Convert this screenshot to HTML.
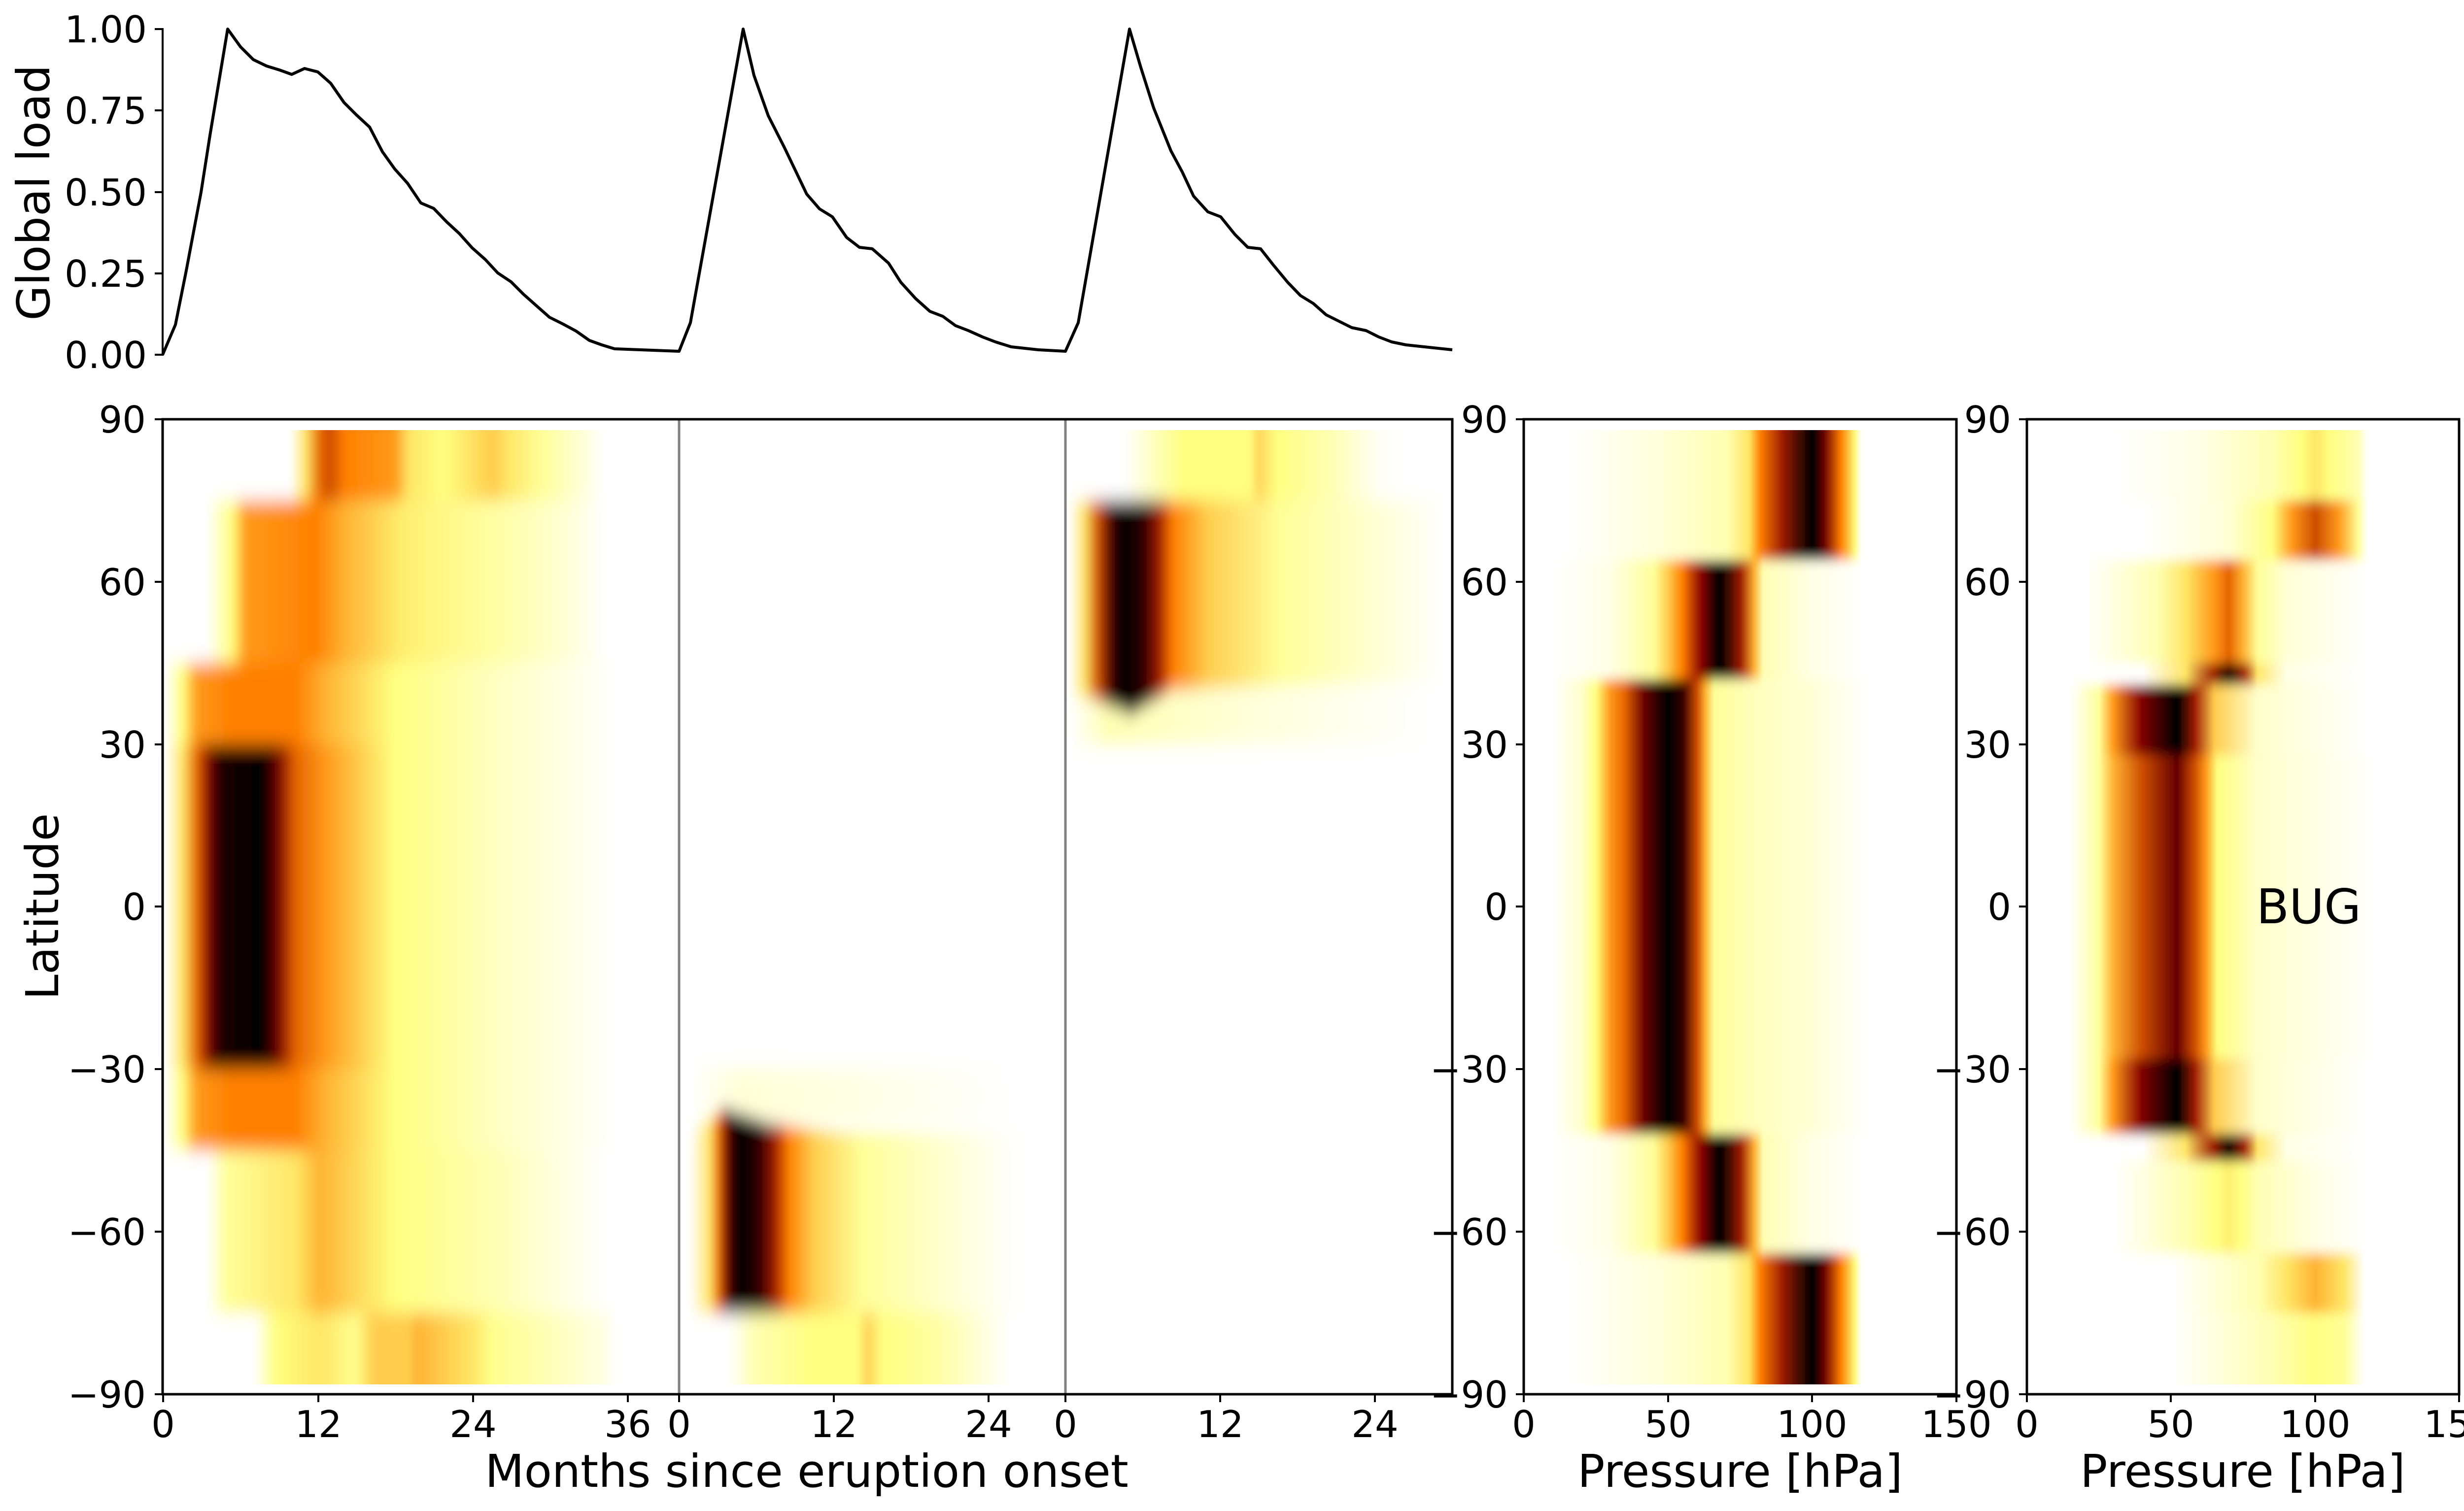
<!DOCTYPE html>
<html><head><meta charset="utf-8"><style>html,body{margin:0;padding:0;background:#fff}svg{display:block}</style></head>
<body>
<svg xmlns="http://www.w3.org/2000/svg" width="5082" height="3067" viewBox="0 0 5082 3067" font-family="'DejaVu Sans','Liberation Sans',sans-serif">
<defs>
<filter id="bl" x="-5%" y="-20%" width="110%" height="140%"><feGaussianBlur stdDeviation="8 18"/></filter>
<filter id="bl2" x="-5%" y="-20%" width="110%" height="140%"><feGaussianBlur stdDeviation="0.4 12"/></filter>
<clipPath id="cm"><rect x="330" y="873" width="2617" height="1937"/></clipPath>
<clipPath id="cp"><rect x="0" y="873" width="150" height="1937"/></clipPath>
<linearGradient id="A" gradientUnits="userSpaceOnUse" x1="0" x2="5000" y1="0" y2="0">
<stop offset=".118" stop-color="#fff"/><stop offset=".124" stop-color="#ffe666"/><stop offset=".13" stop-color="#e66600"/><stop offset=".134" stop-color="#cc4d00"/><stop offset=".14" stop-color="#ff8000"/><stop offset=".16" stop-color="#ff991a"/><stop offset=".166" stop-color="#ffe666"/><stop offset=".18" stop-color="#ffff80"/><stop offset=".19" stop-color="#ffe666"/><stop offset=".2" stop-color="#ffcc4d"/><stop offset=".206" stop-color="#ffe666"/><stop offset=".22" stop-color="#ffff99"/><stop offset=".24" stop-color="#ffffe6"/><stop offset=".244" stop-color="#fff"/></linearGradient>
<linearGradient id="B" gradientUnits="userSpaceOnUse" x1="0" x2="5000" y1="0" y2="0">
<stop offset=".084" stop-color="#fff"/><stop offset=".094" stop-color="#ffff80"/><stop offset=".1" stop-color="#ff991a"/><stop offset=".128" stop-color="#ff8000"/><stop offset=".14" stop-color="#ffb333"/><stop offset=".164" stop-color="#fff070"/><stop offset=".2" stop-color="#ffffa3"/><stop offset=".23" stop-color="#ffffd6"/><stop offset=".246" stop-color="#fff"/></linearGradient>
<linearGradient id="C" gradientUnits="userSpaceOnUse" x1="0" x2="5000" y1="0" y2="0">
<stop offset=".067" stop-color="#fff"/><stop offset=".074" stop-color="#ffff80"/><stop offset=".08" stop-color="#ff991a"/><stop offset=".094" stop-color="#ff8000"/><stop offset=".12" stop-color="#ff8000"/><stop offset=".132" stop-color="#ffb333"/><stop offset=".16" stop-color="#ffff80"/><stop offset=".2" stop-color="#ffffc2"/><stop offset=".25" stop-color="#fff"/></linearGradient>
<linearGradient id="D" gradientUnits="userSpaceOnUse" x1="0" x2="5000" y1="0" y2="0">
<stop offset=".067" stop-color="#fff"/><stop offset=".074" stop-color="#ffe666"/><stop offset=".08" stop-color="#e66600"/><stop offset=".086" stop-color="#660000"/><stop offset=".09" stop-color="#1a0000"/><stop offset=".106" stop-color="#000"/><stop offset=".112" stop-color="#660000"/><stop offset=".12" stop-color="#e66600"/><stop offset=".132" stop-color="#ff991a"/><stop offset=".16" stop-color="#ffff80"/><stop offset=".2" stop-color="#ffffc2"/><stop offset=".25" stop-color="#fff"/></linearGradient>
<linearGradient id="E" gradientUnits="userSpaceOnUse" x1="0" x2="5000" y1="0" y2="0">
<stop offset=".084" stop-color="#fff"/><stop offset=".092" stop-color="#ffff99"/><stop offset=".12" stop-color="#ffe666"/><stop offset=".13" stop-color="#ffb333"/><stop offset=".14" stop-color="#ffcc4d"/><stop offset=".16" stop-color="#ffff80"/><stop offset=".2" stop-color="#ffffb3"/><stop offset=".23" stop-color="#ffffe6"/><stop offset=".246" stop-color="#fff"/></linearGradient>
<linearGradient id="F" gradientUnits="userSpaceOnUse" x1="0" x2="5000" y1="0" y2="0">
<stop offset=".1034" stop-color="#fff"/><stop offset=".112" stop-color="#ffff80"/><stop offset=".13" stop-color="#ffe666"/><stop offset=".144" stop-color="#ffff8f"/><stop offset=".152" stop-color="#ffcc4d"/><stop offset=".166" stop-color="#ffcc4d"/><stop offset=".169" stop-color="#ffb333"/><stop offset=".18" stop-color="#ffcc4d"/><stop offset=".192" stop-color="#ffe666"/><stop offset=".2" stop-color="#ffff8f"/><stop offset=".22" stop-color="#ffffb3"/><stop offset=".246" stop-color="#ffffe6"/><stop offset=".25" stop-color="#fff"/></linearGradient>
<linearGradient id="S2" gradientUnits="userSpaceOnUse" x1="0" x2="5000" y1="0" y2="0">
<stop offset=".28" stop-color="#fff"/><stop offset=".288" stop-color="#ffe666"/><stop offset=".292" stop-color="#e66600"/><stop offset=".296" stop-color="#4d0000"/><stop offset=".3" stop-color="#000"/><stop offset=".308" stop-color="#300000"/><stop offset=".314" stop-color="#991a00"/><stop offset=".32" stop-color="#ff8000"/><stop offset=".33" stop-color="#ffcc4d"/><stop offset=".35" stop-color="#ffff99"/><stop offset=".38" stop-color="#ffffcc"/><stop offset=".41" stop-color="#fffffa"/><stop offset=".416" stop-color="#fff"/></linearGradient>
<linearGradient id="S2b" gradientUnits="userSpaceOnUse" x1="0" x2="5000" y1="0" y2="0">
<stop offset=".296" stop-color="#fff"/><stop offset=".306" stop-color="#ffffb3"/><stop offset=".33" stop-color="#ffff80"/><stop offset=".348" stop-color="#ffff80"/><stop offset=".352" stop-color="#ffd055"/><stop offset=".358" stop-color="#ffff80"/><stop offset=".38" stop-color="#ffffa3"/><stop offset=".41" stop-color="#fff"/></linearGradient>
<linearGradient id="S2f" gradientUnits="userSpaceOnUse" x1="0" x2="5000" y1="0" y2="0">
<stop offset=".28" stop-color="#fff"/><stop offset=".3" stop-color="#ffffd6"/><stop offset=".35" stop-color="#ffffe6"/><stop offset=".41" stop-color="#fff"/></linearGradient>
<linearGradient id="S3" gradientUnits="userSpaceOnUse" x1="0" x2="5000" y1="0" y2="0">
<stop offset=".434" stop-color="#fff"/><stop offset=".44" stop-color="#ffe666"/><stop offset=".446" stop-color="#cc4d00"/><stop offset=".452" stop-color="#330000"/><stop offset=".456" stop-color="#000"/><stop offset=".464" stop-color="#300000"/><stop offset=".47" stop-color="#991a00"/><stop offset=".476" stop-color="#ff8000"/><stop offset=".49" stop-color="#ffcc4d"/><stop offset=".52" stop-color="#ffff99"/><stop offset=".56" stop-color="#ffffd6"/><stop offset=".586" stop-color="#fff"/></linearGradient>
<linearGradient id="S3t" gradientUnits="userSpaceOnUse" x1="0" x2="5000" y1="0" y2="0">
<stop offset=".456" stop-color="#fff"/><stop offset=".466" stop-color="#ffffcc"/><stop offset=".48" stop-color="#ffff80"/><stop offset=".508" stop-color="#ffff80"/><stop offset=".51" stop-color="#ffd055"/><stop offset=".518" stop-color="#ffff80"/><stop offset=".54" stop-color="#ffffb3"/><stop offset=".56" stop-color="#fffff7"/><stop offset=".57" stop-color="#fff"/></linearGradient>
<linearGradient id="S3f" gradientUnits="userSpaceOnUse" x1="0" x2="5000" y1="0" y2="0">
<stop offset=".434" stop-color="#fff"/><stop offset=".45" stop-color="#ffffb3"/><stop offset=".5" stop-color="#ffffd6"/><stop offset=".58" stop-color="#fff"/></linearGradient>
<linearGradient id="P1" gradientUnits="userSpaceOnUse" x1="0" x2="200" y1="0" y2="0">
<stop offset=".075" stop-color="#fff"/><stop offset=".25" stop-color="#ffffd6"/><stop offset=".35" stop-color="#ffffb3"/><stop offset=".39" stop-color="#ffe666"/><stop offset=".41" stop-color="#ff8000"/><stop offset=".45" stop-color="#991a00"/><stop offset=".5" stop-color="#000"/><stop offset=".52" stop-color="#660000"/><stop offset=".55" stop-color="#ff8000"/><stop offset=".575" stop-color="#ffff80"/><stop offset=".585" stop-color="#fff"/></linearGradient>
<linearGradient id="P2" gradientUnits="userSpaceOnUse" x1="0" x2="200" y1="0" y2="0">
<stop offset=".05" stop-color="#fff"/><stop offset=".15" stop-color="#ffffe6"/><stop offset=".225" stop-color="#ffff99"/><stop offset=".25" stop-color="#ffcc4d"/><stop offset=".275" stop-color="#ff8000"/><stop offset=".31" stop-color="#800000"/><stop offset=".34" stop-color="#000"/><stop offset=".375" stop-color="#991a00"/><stop offset=".4" stop-color="#ffb333"/><stop offset=".415" stop-color="#ffffb3"/><stop offset=".5" stop-color="#ffffe6"/><stop offset=".585" stop-color="#fff"/></linearGradient>
<linearGradient id="P3" gradientUnits="userSpaceOnUse" x1="0" x2="200" y1="0" y2="0">
<stop offset=".05" stop-color="#fff"/><stop offset=".1" stop-color="#ffffcc"/><stop offset=".125" stop-color="#ffff80"/><stop offset=".15" stop-color="#ff991a"/><stop offset=".175" stop-color="#e66600"/><stop offset=".21" stop-color="#660000"/><stop offset=".25" stop-color="#000"/><stop offset=".275" stop-color="#330000"/><stop offset=".3" stop-color="#cc4d00"/><stop offset=".315" stop-color="#ffb333"/><stop offset=".33" stop-color="#ffff99"/><stop offset=".4" stop-color="#ffffbd"/><stop offset=".5" stop-color="#ffffd6"/><stop offset=".585" stop-color="#fffffa"/><stop offset=".6" stop-color="#fff"/></linearGradient>
<linearGradient id="Q1" gradientUnits="userSpaceOnUse" x1="0" x2="200" y1="0" y2="0">
<stop offset=".15" stop-color="#fff"/><stop offset=".3" stop-color="#ffffe6"/><stop offset=".425" stop-color="#ffffb3"/><stop offset=".475" stop-color="#ffff80"/><stop offset=".5" stop-color="#ffe666"/><stop offset=".525" stop-color="#ffff80"/><stop offset=".575" stop-color="#ffffb3"/><stop offset=".59" stop-color="#fff"/></linearGradient>
<linearGradient id="Q2" gradientUnits="userSpaceOnUse" x1="0" x2="200" y1="0" y2="0">
<stop offset=".2" stop-color="#fff"/><stop offset=".35" stop-color="#ffffd6"/><stop offset=".425" stop-color="#ffff80"/><stop offset=".46" stop-color="#ff991a"/><stop offset=".5" stop-color="#cc4d00"/><stop offset=".54" stop-color="#ff991a"/><stop offset=".575" stop-color="#ffff99"/><stop offset=".59" stop-color="#fff"/></linearGradient>
<linearGradient id="Q3" gradientUnits="userSpaceOnUse" x1="0" x2="200" y1="0" y2="0">
<stop offset=".1" stop-color="#fff"/><stop offset=".225" stop-color="#ffffb3"/><stop offset=".275" stop-color="#ffe666"/><stop offset=".325" stop-color="#ff991a"/><stop offset=".35" stop-color="#e66600"/><stop offset=".375" stop-color="#ffb333"/><stop offset=".4" stop-color="#ffff99"/><stop offset=".45" stop-color="#ffffd6"/><stop offset=".59" stop-color="#fff"/></linearGradient>
<linearGradient id="Q4" gradientUnits="userSpaceOnUse" x1="0" x2="200" y1="0" y2="0">
<stop offset=".2" stop-color="#fff"/><stop offset=".275" stop-color="#ffe666"/><stop offset=".325" stop-color="#991a00"/><stop offset=".35" stop-color="#1a0000"/><stop offset=".375" stop-color="#991a00"/><stop offset=".4" stop-color="#ffe666"/><stop offset=".45" stop-color="#ffffe6"/><stop offset=".59" stop-color="#fff"/></linearGradient>
<linearGradient id="Q5" gradientUnits="userSpaceOnUse" x1="0" x2="200" y1="0" y2="0">
<stop offset=".075" stop-color="#fff"/><stop offset=".125" stop-color="#ffff99"/><stop offset=".15" stop-color="#ff991a"/><stop offset=".2" stop-color="#800000"/><stop offset=".26" stop-color="#000"/><stop offset=".29" stop-color="#991a00"/><stop offset=".325" stop-color="#ffcc4d"/><stop offset=".4" stop-color="#ffffcc"/><stop offset=".59" stop-color="#fff"/></linearGradient>
<linearGradient id="Q6" gradientUnits="userSpaceOnUse" x1="0" x2="200" y1="0" y2="0">
<stop offset=".075" stop-color="#fff"/><stop offset=".125" stop-color="#ffff99"/><stop offset=".15" stop-color="#ffb333"/><stop offset=".2" stop-color="#cc4d00"/><stop offset=".26" stop-color="#660000"/><stop offset=".29" stop-color="#cc4d00"/><stop offset=".31" stop-color="#ff991a"/><stop offset=".33" stop-color="#ffff80"/><stop offset=".4" stop-color="#ffffcc"/><stop offset=".59" stop-color="#fffffa"/><stop offset=".6" stop-color="#fff"/></linearGradient>
<linearGradient id="Q9" gradientUnits="userSpaceOnUse" x1="0" x2="200" y1="0" y2="0">
<stop offset=".15" stop-color="#fff"/><stop offset=".275" stop-color="#ffffb3"/><stop offset=".33" stop-color="#ffff80"/><stop offset=".35" stop-color="#fff070"/><stop offset=".37" stop-color="#ffff80"/><stop offset=".4" stop-color="#ffffb3"/><stop offset=".5" stop-color="#ffffe6"/><stop offset=".59" stop-color="#fff"/></linearGradient>
<linearGradient id="Q10" gradientUnits="userSpaceOnUse" x1="0" x2="200" y1="0" y2="0">
<stop offset=".25" stop-color="#fff"/><stop offset=".4" stop-color="#ffffb3"/><stop offset=".45" stop-color="#ffe666"/><stop offset=".5" stop-color="#ffb333"/><stop offset=".55" stop-color="#ffe666"/><stop offset=".585" stop-color="#fff"/></linearGradient>
<linearGradient id="Q11" gradientUnits="userSpaceOnUse" x1="0" x2="200" y1="0" y2="0">
<stop offset=".25" stop-color="#fff"/><stop offset=".425" stop-color="#ffffb3"/><stop offset=".5" stop-color="#ffff80"/><stop offset=".55" stop-color="#ffff99"/><stop offset=".585" stop-color="#fff"/></linearGradient>
</defs>

<!-- Top plot -->
<line x1="330" y1="57" x2="330" y2="722" stroke="#000" stroke-width="4"/>
<g stroke="#000" stroke-width="4">
<line x1="314" y1="59" x2="330" y2="59"/><line x1="314" y1="224" x2="330" y2="224"/><line x1="314" y1="390" x2="330" y2="390"/><line x1="314" y1="555" x2="330" y2="555"/><line x1="314" y1="720" x2="330" y2="720"/>
</g>
<g font-size="75" text-anchor="end" fill="#000">
<text x="298" y="86">1.00</text><text x="298" y="251">0.75</text><text x="298" y="417">0.50</text><text x="298" y="582">0.25</text><text x="298" y="747">0.00</text>
</g>
<text transform="translate(100,391) rotate(-90)" font-size="92" text-anchor="middle">Global load</text>
<polyline fill="none" stroke="#000" stroke-width="6" stroke-linejoin="round" points="330,720 356,659 378,549 408,390 426,275 462,59 488,95 514,121 541,134 567,142 592,151 618,139 645,146 671,169 698,208 723,233 750,258 776,308 801,343 827,372 854,412 880,423 906,450 932,474 958,503 985,527 1010,554 1037,572 1062,597 1089,621 1115,644 1143,658 1169,672 1196,691 1221,700 1247,708 1378,713 1401,655 1508,59 1530,153 1559,235 1592,300 1637,394 1663,424 1689,440 1718,482 1744,502 1770,505 1803,534 1828,573 1858,606 1887,632 1913,642 1939,661 1965,671 1994,684 2020,694 2052,704 2107,710 2162,713 2188,655 2292,59 2315,137 2341,219 2376,306 2399,349 2422,398 2451,430 2477,440 2506,476 2532,502 2558,505 2584,538 2613,573 2639,600 2665,616 2691,639 2717,652 2743,665 2772,671 2798,684 2824,694 2853,700 2947,710"/>

<!-- Main heatmap -->
<g clip-path="url(#cm)">
<g filter="url(#bl)">
<rect x="330" y="820" width="1048" height="196" fill="url(#A)"/>
<rect x="330" y="1016" width="1048" height="330" fill="url(#B)"/>
<rect x="330" y="1346" width="1048" height="165" fill="url(#C)"/>
<rect x="330" y="1511" width="1048" height="659" fill="url(#D)"/>
<rect x="330" y="2170" width="1048" height="165" fill="url(#C)"/>
<rect x="330" y="2335" width="1048" height="330" fill="url(#E)"/>
<rect x="330" y="2665" width="1048" height="200" fill="url(#F)"/>
<rect x="1380" y="2170" width="780" height="110" fill="url(#S2f)"/>
<polygon points="1380,2310 1470,2250 1560,2280 1700,2300 2160,2300 2160,2665 1380,2665" fill="url(#S2)"/>
<rect x="1380" y="2665" width="780" height="200" fill="url(#S2b)"/>
<rect x="2164" y="820" width="784" height="196" fill="url(#S3t)"/>
<rect x="2164" y="1380" width="784" height="130" fill="url(#S3f)"/>
<polygon points="2164,1016 2948,1016 2948,1380 2600,1390 2380,1400 2296,1450 2220,1420 2164,1410" fill="url(#S3)"/>
</g>
</g>
<line x1="1378" y1="851" x2="1378" y2="2830" stroke="#808080" stroke-width="5"/>
<line x1="2162" y1="851" x2="2162" y2="2830" stroke="#808080" stroke-width="5"/>
<rect x="330" y="851" width="2617" height="1979" fill="none" stroke="#000" stroke-width="5"/>
<g stroke="#000" stroke-width="4">
<line x1="314" y1="851" x2="330" y2="851"/><line x1="314" y1="1181" x2="330" y2="1181"/><line x1="314" y1="1511" x2="330" y2="1511"/><line x1="314" y1="1840" x2="330" y2="1840"/><line x1="314" y1="2170" x2="330" y2="2170"/><line x1="314" y1="2500" x2="330" y2="2500"/><line x1="314" y1="2830" x2="330" y2="2830"/>
<line x1="331" y1="2830" x2="331" y2="2846"/><line x1="646" y1="2830" x2="646" y2="2846"/><line x1="960" y1="2830" x2="960" y2="2846"/><line x1="1274" y1="2830" x2="1274" y2="2846"/>
<line x1="1378" y1="2830" x2="1378" y2="2846"/><line x1="1692" y1="2830" x2="1692" y2="2846"/><line x1="2006" y1="2830" x2="2006" y2="2846"/>
<line x1="2162" y1="2830" x2="2162" y2="2846"/><line x1="2476" y1="2830" x2="2476" y2="2846"/><line x1="2790" y1="2830" x2="2790" y2="2846"/>
</g>
<g font-size="75" text-anchor="end">
<text x="296" y="878">90</text><text x="296" y="1208">60</text><text x="296" y="1538">30</text><text x="296" y="1867">0</text><text x="296" y="2197">−30</text><text x="296" y="2527">−60</text><text x="296" y="2857">−90</text>
</g>
<g font-size="75" text-anchor="middle">
<text x="331" y="2917">0</text><text x="646" y="2917">12</text><text x="960" y="2917">24</text><text x="1274" y="2917">36</text>
<text x="1378" y="2917">0</text><text x="1692" y="2917">12</text><text x="2006" y="2917">24</text>
<text x="2162" y="2917">0</text><text x="2476" y="2917">12</text><text x="2790" y="2917">24</text>
</g>
<text x="1637" y="3018" font-size="92" text-anchor="middle">Months since eruption onset</text>
<text transform="translate(118,1840) rotate(-90)" font-size="92" text-anchor="middle">Latitude</text>

<!-- Pressure panel 1 -->
<g transform="translate(3092,0) scale(5.853,1)">
<g clip-path="url(#cp)"><g filter="url(#bl2)">
<rect x="0" y="820" width="150" height="317" fill="url(#P1)"/>
<rect x="0" y="1137" width="150" height="242" fill="url(#P2)"/>
<rect x="0" y="1379" width="150" height="923" fill="url(#P3)"/>
<rect x="0" y="2302" width="150" height="242" fill="url(#P2)"/>
<rect x="0" y="2544" width="150" height="321" fill="url(#P1)"/>
</g></g>
</g>
<rect x="3092" y="851" width="878" height="1979" fill="none" stroke="#000" stroke-width="5"/>
<!-- Pressure panel 2 -->
<g transform="translate(4113,0) scale(5.853,1)">
<g clip-path="url(#cp)"><g filter="url(#bl2)">
<rect x="0" y="820" width="150" height="196" fill="url(#Q1)"/>
<rect x="0" y="1016" width="150" height="121" fill="url(#Q2)"/>
<rect x="0" y="1137" width="150" height="209" fill="url(#Q3)"/>
<rect x="0" y="1346" width="150" height="44" fill="url(#Q4)"/>
<rect x="0" y="1390" width="150" height="143" fill="url(#Q5)"/>
<rect x="0" y="1533" width="150" height="616" fill="url(#Q6)"/>
<rect x="0" y="2149" width="150" height="153" fill="url(#Q5)"/>
<rect x="0" y="2302" width="150" height="55" fill="url(#Q4)"/>
<rect x="0" y="2357" width="150" height="187" fill="url(#Q9)"/>
<rect x="0" y="2544" width="150" height="121" fill="url(#Q10)"/>
<rect x="0" y="2665" width="150" height="200" fill="url(#Q11)"/>
</g></g>
</g>
<rect x="4113" y="851" width="877" height="1979" fill="none" stroke="#000" stroke-width="5"/>
<text x="4685" y="1874" font-size="97" text-anchor="middle">BUG</text>

<g stroke="#000" stroke-width="4">
<line x1="3076" y1="851" x2="3092" y2="851"/><line x1="3076" y1="1181" x2="3092" y2="1181"/><line x1="3076" y1="1511" x2="3092" y2="1511"/><line x1="3076" y1="1840" x2="3092" y2="1840"/><line x1="3076" y1="2170" x2="3092" y2="2170"/><line x1="3076" y1="2500" x2="3092" y2="2500"/><line x1="3076" y1="2830" x2="3092" y2="2830"/>
<line x1="4097" y1="851" x2="4113" y2="851"/><line x1="4097" y1="1181" x2="4113" y2="1181"/><line x1="4097" y1="1511" x2="4113" y2="1511"/><line x1="4097" y1="1840" x2="4113" y2="1840"/><line x1="4097" y1="2170" x2="4113" y2="2170"/><line x1="4097" y1="2500" x2="4113" y2="2500"/><line x1="4097" y1="2830" x2="4113" y2="2830"/>
<line x1="3092" y1="2830" x2="3092" y2="2846"/><line x1="3385" y1="2830" x2="3385" y2="2846"/><line x1="3677" y1="2830" x2="3677" y2="2846"/><line x1="3970" y1="2830" x2="3970" y2="2846"/>
<line x1="4113" y1="2830" x2="4113" y2="2846"/><line x1="4405" y1="2830" x2="4405" y2="2846"/><line x1="4698" y1="2830" x2="4698" y2="2846"/><line x1="4990" y1="2830" x2="4990" y2="2846"/>
</g>
<g font-size="75" text-anchor="end">
<text x="3060" y="878">90</text><text x="3060" y="1208">60</text><text x="3060" y="1538">30</text><text x="3060" y="1867">0</text><text x="3060" y="2197">−30</text><text x="3060" y="2527">−60</text><text x="3060" y="2857">−90</text>
<text x="4081" y="878">90</text><text x="4081" y="1208">60</text><text x="4081" y="1538">30</text><text x="4081" y="1867">0</text><text x="4081" y="2197">−30</text><text x="4081" y="2527">−60</text><text x="4081" y="2857">−90</text>
</g>
<g font-size="75" text-anchor="middle">
<text x="3092" y="2917">0</text><text x="3385" y="2917">50</text><text x="3677" y="2917">100</text><text x="3970" y="2917">150</text>
<text x="4113" y="2917">0</text><text x="4405" y="2917">50</text><text x="4698" y="2917">100</text><text x="4990" y="2917">150</text>
</g>
<text x="3531" y="3018" font-size="92" text-anchor="middle">Pressure [hPa]</text>
<text x="4551" y="3018" font-size="92" text-anchor="middle">Pressure [hPa]</text>
</svg>
</body></html>
